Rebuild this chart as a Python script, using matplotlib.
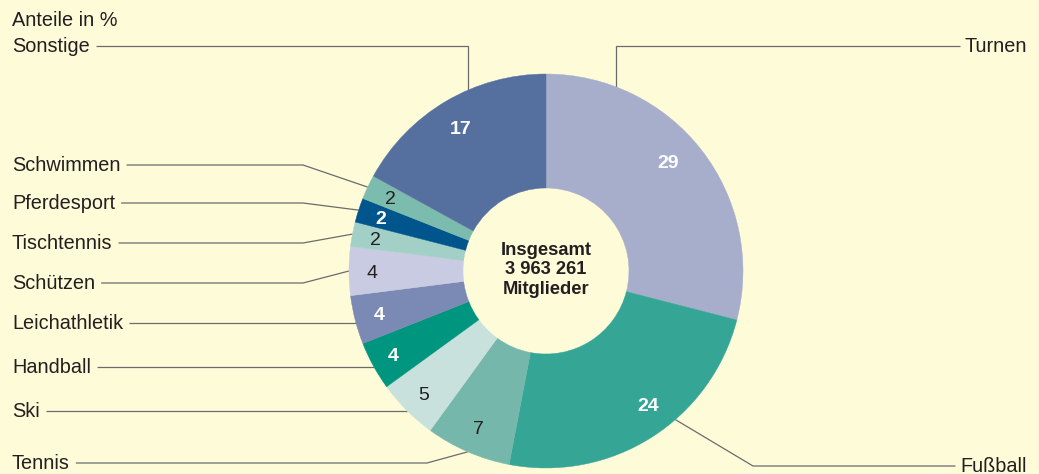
import matplotlib
matplotlib.use("Agg")
import matplotlib.pyplot as plt
import numpy as np

# ---- data ----
categories = ["Turnen", "Fußball", "Tennis", "Ski", "Handball", "Leichathletik",
              "Schützen", "Tischtennis", "Pferdesport", "Schwimmen", "Sonstige"]
shares = [29, 24, 7, 5, 4, 4, 4, 2, 2, 2, 17]
colors = ["#a7aecb", "#35a596", "#76b7ac", "#c8e1dd", "#00957e", "#7b8ab4",
          "#c9cbe2", "#a3d0c6", "#00558c", "#7cbcaf", "#55709f"]
white_bold = [True, True, False, False, True, True, False, False, True, False, True]
center_text = "Insgesamt\n3 963 261\nMitglieder"
title_text = "Anteile in %"

# ---- layout (pixel units, y measured from top) ----
W, H = 1039, 474
BG = "#fefbd9"
CX, CY, R, RING = 546, 271, 197, 114
LINE_COL = "#6b6b6b"
TEXT_COL = "#231f20"
FS = 14.3

# value label placement: fraction along wedge, radius
value_pos = [(0.46, 164), (0.44, 168), (0.5, 171), (0.5, 173), (0.5, 174),
             (0.5, 172), (0.5, 174), (0.5, 174), (0.5, 174), (0.5, 172),
             (0.5, 167)]

# label layout: side, label y, elbow mode, position inside wedge for the anchor
label_layout = {
    "Sonstige":      ("L", 46,  "vertical", 0.62),
    "Schwimmen":     ("L", 165, 303, 0.5),
    "Pferdesport":   ("L", 203, 303, 0.5),
    "Tischtennis":   ("L", 243, 303, 0.5),
    "Schützen":      ("L", 283, 303, 0.5),
    "Leichathletik": ("L", 323, "horizontal", 0.5),
    "Handball":      ("L", 367, "horizontal", 0.5),
    "Ski":           ("L", 411, "horizontal", 0.5),
    "Tennis":        ("L", 463, 427, 0.5),
    "Turnen":        ("R", 46,  "vertical", 0.2),
    "Fußball":       ("R", 466, 753, 0.4),
}

plt.rcParams["font.family"] = ["Liberation Sans", "DejaVu Sans"]

fig = plt.figure(figsize=(W / 100, H / 100), dpi=100, facecolor=BG)
ax = fig.add_axes([0, 0, 1, 1])
ax.set_facecolor(BG)


def py(y):
    return H - y


cum = np.concatenate([[0], np.cumsum(shares)])
total = float(sum(shares))


def wedge_point(i, frac, r):
    pct = (cum[i] + frac * shares[i]) / total
    th = np.deg2rad(360 * pct)
    return CX + r * np.sin(th), CY - r * np.cos(th)


wedges, texts, autotexts = ax.pie(
    shares, colors=colors, startangle=90, counterclock=False,
    center=(CX, py(CY)), radius=R,
    wedgeprops=dict(width=RING, linewidth=0),
    autopct=lambda p: f"{p:.0f}", pctdistance=0.86, frame=True,
)
for w, c in zip(wedges, colors):
    w.set_edgecolor(c)
    w.set_linewidth(0.3)
for i, (t, wb) in enumerate(zip(autotexts, white_bold)):
    t.set_fontsize(14)
    f, r = value_pos[i]
    x, y = wedge_point(i, f, r)
    t.set_position((x, py(y)))
    t.set_va("center_baseline")
    if wb:
        t.set_color("white")
        t.set_fontweight("bold")
    else:
        t.set_color(TEXT_COL)

ax.set_xlim(0, W)
ax.set_ylim(0, H)
ax.set_aspect("auto")
ax.axis("off")

# center text
ax.text(CX, py(270), center_text, ha="center", va="center", fontsize=13.2,
        fontweight="bold", color=TEXT_COL, linespacing=1.2)

# title
ax.text(12, py(26), title_text, ha="left", va="baseline", fontsize=FS,
        color=TEXT_COL)

renderer = fig.canvas.get_renderer()

for i, cat in enumerate(categories):
    side, ly, elbow, frac = label_layout[cat]
    ax_x, ax_y = wedge_point(i, frac, R)
    if side == "L":
        t = ax.text(12, py(ly + 6), cat, ha="left", va="baseline",
                    fontsize=FS, color=TEXT_COL)
        bb = t.get_window_extent(renderer)
        x0 = bb.x1 + 6
    else:
        t = ax.text(1027, py(ly + 6), cat, ha="right", va="baseline",
                    fontsize=FS, color=TEXT_COL)
        bb = t.get_window_extent(renderer)
        x0 = bb.x0 - 5
    if elbow == "vertical":
        pts = [(x0, ly), (ax_x, ly), (ax_x, ax_y)]
    elif elbow == "horizontal":
        dx = np.sqrt(R ** 2 - (ly - CY) ** 2)
        pts = [(x0, ly), (CX - dx, ly)]
    else:
        pts = [(x0, ly), (elbow, ly), (ax_x, ax_y)]
    xs = [p[0] for p in pts]
    ys = [py(p[1]) for p in pts]
    ax.plot(xs, ys, color=LINE_COL, lw=0.9, solid_capstyle="butt",
            solid_joinstyle="miter", zorder=0.5)

fig.savefig("out.png", dpi=100, facecolor=BG)
